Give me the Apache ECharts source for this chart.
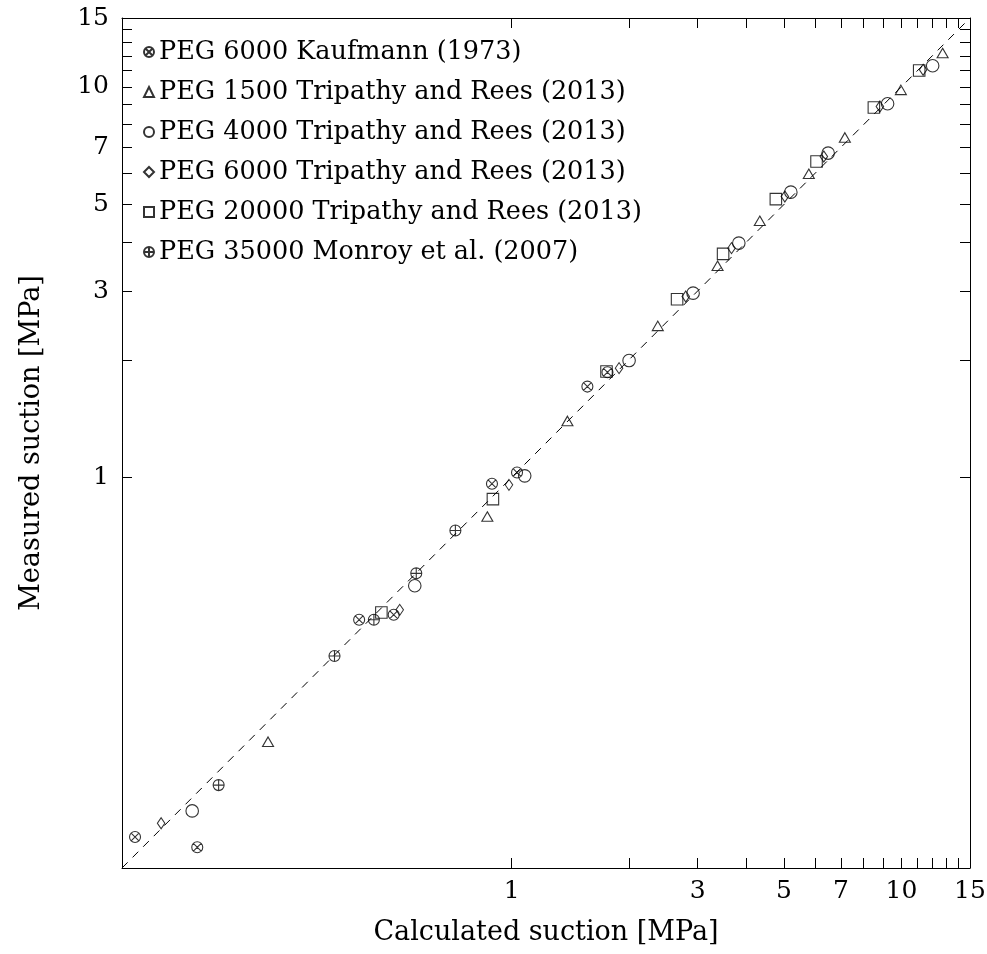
<!DOCTYPE html>
<html>
<head>
<meta charset="utf-8">
<script src="https://cdn.jsdelivr.net/npm/echarts@6/dist/echarts.min.js"></script>
<style>
html,body{margin:0;padding:0;background:#fff;}
#chart{width:987px;height:954px;}
</style>
</head>
<body>
<div id="chart"></div>
<script>
// ---- data ----
const seriesNames = [
  'PEG 6000 Kaufmann (1973)',
  'PEG 1500 Tripathy and Rees (2013)',
  'PEG 4000 Tripathy and Rees (2013)',
  'PEG 6000 Tripathy and Rees (2013)',
  'PEG 20000 Tripathy and Rees (2013)',
  'PEG 35000 Monroy et al. (2007)'
];
const kaufX = [0.108, 0.156, 0.406, 0.498, 0.890, 1.032, 1.564, 1.761];
const kaufY = [0.120, 0.113, 0.432, 0.445, 0.963, 1.029, 1.708, 1.859];
const peg1500X = [0.237, 0.866, 1.390, 2.371, 3.375, 4.332, 5.787, 7.161, 9.97, 12.76];
const peg1500Y = [0.2105, 0.794, 1.395, 2.443, 3.480, 4.539, 5.987, 7.418, 9.82, 12.20];
const peg4000X = [0.1514, 0.564, 1.080, 2.001, 2.921, 3.827, 5.204, 6.487, 9.218, 12.03];
const peg4000Y = [0.140, 0.528, 1.009, 1.991, 2.963, 3.979, 5.374, 6.765, 9.05, 11.32];
const peg6000X = [0.126, 0.516, 0.984, 1.886, 2.797, 3.665, 5.023, 6.324, 8.807, 11.37];
const peg6000Y = [0.1302, 0.458, 0.957, 1.904, 2.904, 3.863, 5.238, 6.63, 8.905, 11.05];
const peg20000X = [0.463, 0.895, 1.751, 2.657, 3.487, 4.763, 6.057, 8.500, 11.11];
const peg20000Y = [0.451, 0.880, 1.866, 2.859, 3.735, 5.157, 6.437, 8.851, 11.01];
const monroyX = [0.177, 0.351, 0.443, 0.569, 0.717];
const monroyY = [0.163, 0.349, 0.432, 0.568, 0.731];
const diagonal = [0.1, 15];
const axisMin = 0.1;
const axisMax = 15;
const tickValues = [1, 2, 3, 4, 5, 6, 7, 8, 9, 10, 11, 12, 13, 14, 15];
const labelValues = [1, 3, 5, 7, 10, 15];

// ---- build ----
const L = Math.log10;
const pairs = (xs, ys) => xs.map((x, i) => [L(x), L(ys[i])]);
const FONT = 'DejaVu Serif';

const otimes = 'path://M0,-10A10,10,0,1,1,0,10A10,10,0,1,1,0,-10ZM-7.07,-7.07L7.07,7.07M7.07,-7.07L-7.07,7.07';
const oplus = 'path://M0,-10A10,10,0,1,1,0,10A10,10,0,1,1,0,-10ZM-10,0L10,0M0,-10L0,10';

const markStyle = {color: 'transparent', borderColor: '#000', borderWidth: 1.1};

function axisCommon(showLabel, isX) {
  return {
    type: 'value',
    min: L(axisMin),
    max: L(axisMax),
    splitLine: {show: false},
    axisLine: {show: true, onZero: false, lineStyle: {color: '#000', width: 1}},
    axisTick: {show: true, inside: true, length: 10, lineStyle: {color: '#000', width: 1},
               customValues: tickValues.map(L)},
    axisLabel: {show: showLabel, customValues: labelValues.map(L),
                formatter: v => String(Math.round(Math.pow(10, v))),
                fontFamily: FONT, fontSize: 25, color: '#000', margin: isX ? 11 : 13}
  };
}

const chart = echarts.init(document.getElementById('chart'), null, {renderer: 'canvas'});
const option = {
  animation: false,
  backgroundColor: '#fff',
  grid: {left: 122, top: 18, width: 848, height: 850, containLabel: false, outerBoundsMode: 'none'},
  legend: {
    data: seriesNames,
    orient: 'vertical',
    left: 143,
    top: 39,
    padding: 0,
    itemWidth: 10,
    itemHeight: 10,
    itemGap: 14,
    textStyle: {fontFamily: FONT, fontSize: 25.5, color: '#000', lineHeight: 26}
  },
  xAxis: [
    Object.assign(axisCommon(true, true), {
      position: 'bottom',
      name: 'Calculated suction [MPa]',
      nameLocation: 'middle',
      nameGap: 51,
      nameTextStyle: {fontFamily: FONT, fontSize: 27, color: '#000'}
    }),
    Object.assign(axisCommon(false, true), {position: 'top'})
  ],
  yAxis: [
    Object.assign(axisCommon(true, false), {
      position: 'left',
      name: 'Measured suction [MPa]',
      nameLocation: 'middle',
      nameGap: 77,
      nameTextStyle: {fontFamily: FONT, fontSize: 27, color: '#000'}
    }),
    Object.assign(axisCommon(false, false), {position: 'right'})
  ],
  series: [
    {
      name: 'diagonal', type: 'line', silent: true, symbol: 'none',
      data: diagonal.map(v => [L(v), L(v)]),
      lineStyle: {color: '#000', width: 1, type: [8, 7]}, z: 1
    },
    {name: seriesNames[0], type: 'scatter', symbol: otimes, symbolSize: 11,
     data: pairs(kaufX, kaufY), itemStyle: markStyle},
    {name: seriesNames[1], type: 'scatter', symbol: 'triangle', symbolSize: [11, 9.5],
     data: pairs(peg1500X, peg1500Y), itemStyle: markStyle},
    {name: seriesNames[2], type: 'scatter', symbol: 'circle', symbolSize: 12.5,
     data: pairs(peg4000X, peg4000Y), itemStyle: markStyle},
    {name: seriesNames[3], type: 'scatter', symbol: 'diamond', symbolSize: [7.5, 11],
     data: pairs(peg6000X, peg6000Y), itemStyle: markStyle},
    {name: seriesNames[4], type: 'scatter', symbol: 'rect', symbolSize: 11.5,
     data: pairs(peg20000X, peg20000Y), itemStyle: markStyle},
    {name: seriesNames[5], type: 'scatter', symbol: oplus, symbolSize: 11,
     data: pairs(monroyX, monroyY), itemStyle: markStyle}
  ]
};
chart.setOption(option);
</script>
</body>
</html>
